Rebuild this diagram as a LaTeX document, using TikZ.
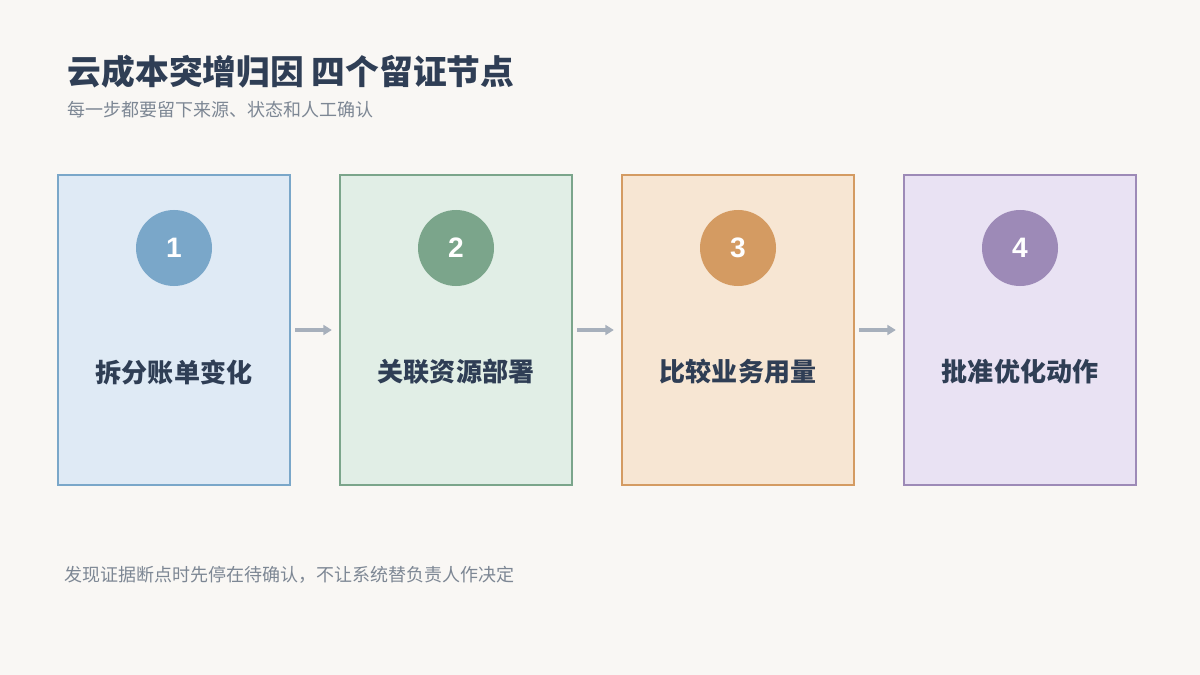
\documentclass[tikz,border=0pt]{standalone}
\usepackage{fontspec}
\setmainfont{Noto Sans CJK SC}
\newfontfamily\numf{Liberation Sans}
\usetikzlibrary{arrows.meta}
\definecolor{bg}{HTML}{F9F7F4}
\definecolor{ink}{HTML}{2F3E55}
\definecolor{sub}{HTML}{7D8794}
\definecolor{fa}{HTML}{DFEAF5}\definecolor{ca}{HTML}{7AA7C9}
\definecolor{fb}{HTML}{E1EEE6}\definecolor{cb}{HTML}{7BA58B}
\definecolor{fc}{HTML}{F7E6D3}\definecolor{cc}{HTML}{D49B62}
\definecolor{fd}{HTML}{E9E2F3}\definecolor{cd}{HTML}{9D8AB7}
\definecolor{arr}{HTML}{A7B0BC}
\begin{document}
\begin{tikzpicture}[x=0.025cm,y=-0.025cm,
 box/.style={draw=#1,line width=1.6pt,minimum width=232*0.025cm,minimum height=310*0.025cm,inner sep=0},
 num/.style={circle,fill=#1,minimum size=76*0.025cm,inner sep=0,text=white,font=\numf\bfseries\fontsize{20}{24}\selectfont},
 lab/.style={text=ink,font=\bfseries\fontsize{18.5}{22}\selectfont},
 con/.style={draw=arr,line width=2.2pt,-{Triangle[length=6pt,width=7pt]}}]
\fill[bg] (0,0) rectangle (1200,675);
\useasboundingbox (0,0) rectangle (1200,675);
\node[anchor=west,text=ink,font=\bfseries\fontsize{24}{28}\selectfont] (title) at (63,72) {云成本突增归因 四个留证节点};
\node[anchor=west,text=sub,font=\fontsize{12.8}{15}\selectfont] (subt) at (63,110) {每一步都要留下来源、状态和人工确认};
\foreach \i/\x/\f/\c/\t in {1/174/fa/ca/拆分账单变化,2/456/fb/cb/关联资源部署,3/738/fc/cc/比较业务用量,4/1020/fd/cd/批准优化动作}{
 \node[box=\c,fill=\f] (b\i) at (\x,330) {};
 \node[num=\c] (n\i) at (\x,248) {\i};
 \node[lab] (l\i) at (\x,372) {\t};
}
\foreach \a/\b in {1/2,2/3,3/4}{
 \draw[con] ([xshift=3pt]b\a.east) -- ([xshift=-5pt]b\b.west);
}
\node[anchor=west,text=sub,font=\fontsize{12.8}{15}\selectfont] (foot) at (60,575) {发现证据断点时先停在待确认，不让系统替负责人作决定};
\end{tikzpicture}
\end{document}
